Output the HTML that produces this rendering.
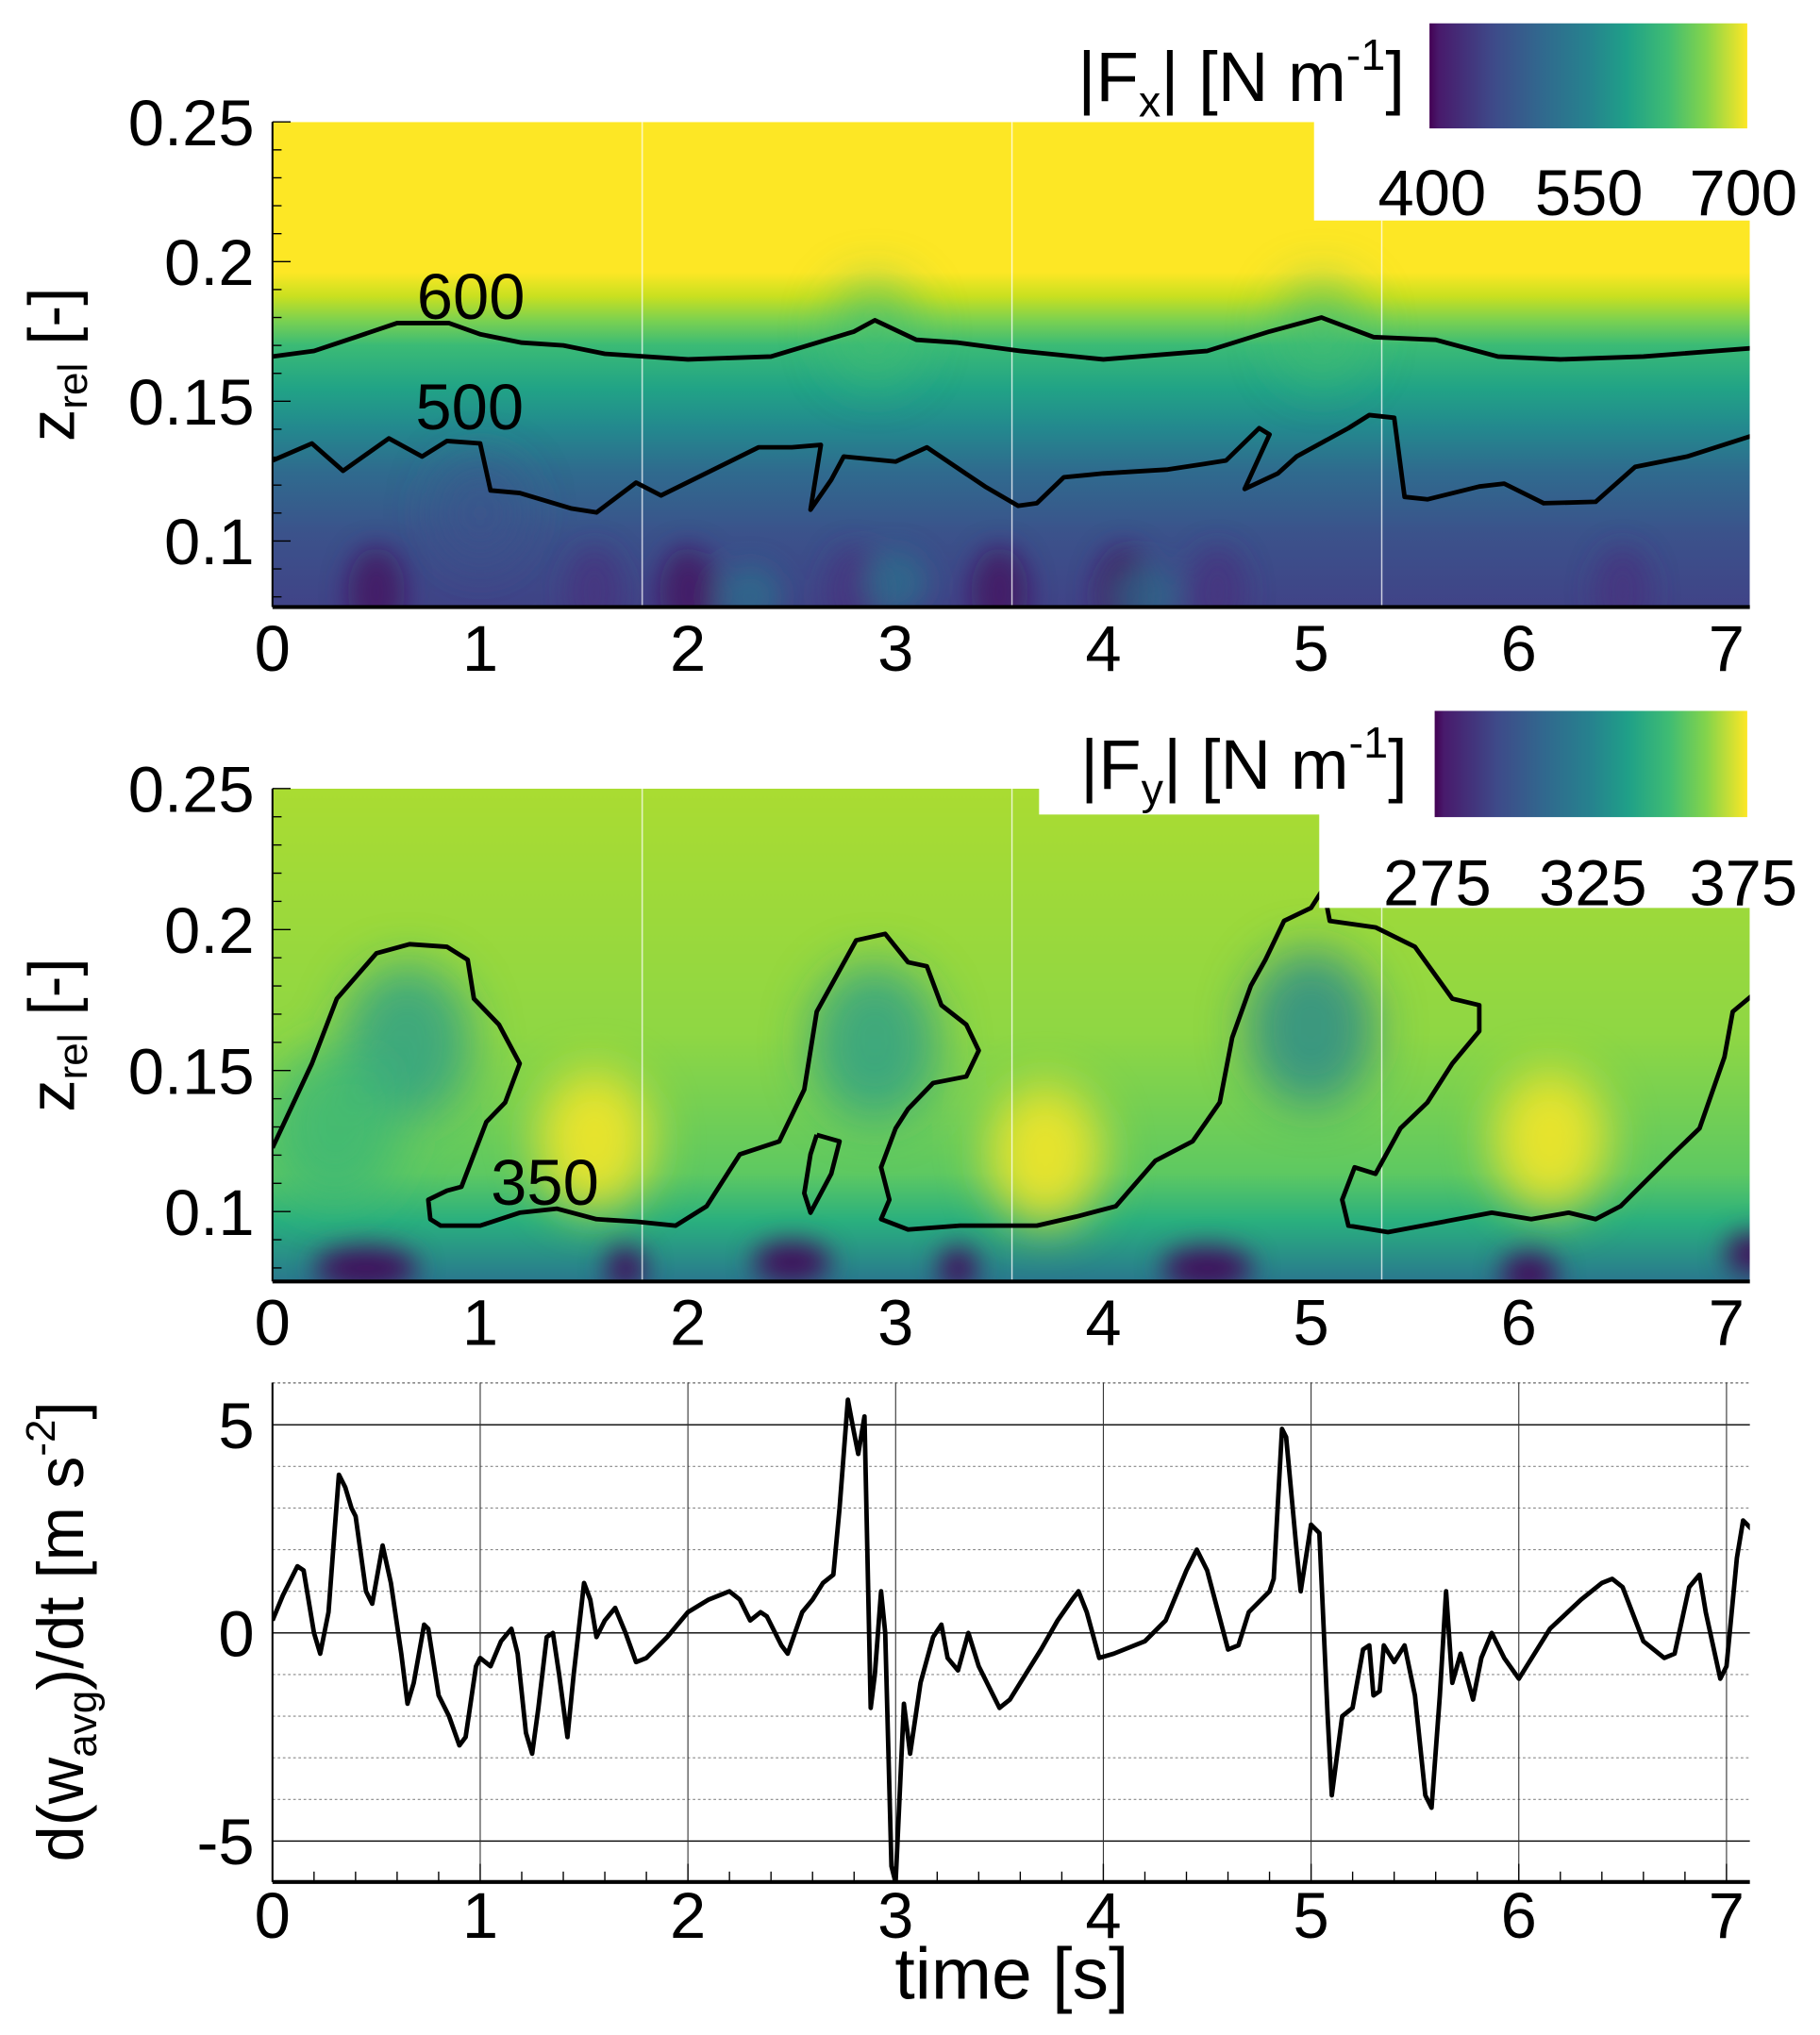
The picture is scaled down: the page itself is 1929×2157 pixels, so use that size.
<!DOCTYPE html>
<html><head><meta charset="utf-8"><style>
html,body{margin:0;padding:0;background:#fff;}
svg{display:block;font-family:"Liberation Sans",Arial,sans-serif;}
</style></head><body>
<svg id="fig" width="1929" height="2157" viewBox="0 0 1403 1569" xmlns="http://www.w3.org/2000/svg">
<defs>
<linearGradient id="viridis" x1="0" x2="1" y1="0" y2="0">
<stop offset="0" stop-color="#440154"/><stop offset="0.03" stop-color="#481a6c"/><stop offset="0.2" stop-color="#3e4a89"/><stop offset="0.35" stop-color="#31688e"/><stop offset="0.5" stop-color="#26828e"/><stop offset="0.62" stop-color="#1fa088"/><stop offset="0.75" stop-color="#3fbc73"/><stop offset="0.87" stop-color="#84d44b"/><stop offset="1" stop-color="#fde725"/>
</linearGradient>
<linearGradient id="fxgrad" x1="0" x2="0" y1="94" y2="468" gradientUnits="userSpaceOnUse">
<stop offset="0" stop-color="#fde725"/><stop offset="0.31" stop-color="#fde725"/><stop offset="0.36" stop-color="#c8e020"/><stop offset="0.41" stop-color="#7ad151"/><stop offset="0.46" stop-color="#3bbb75"/><stop offset="0.55" stop-color="#21a386"/><stop offset="0.63" stop-color="#23898e"/><stop offset="0.72" stop-color="#2f6b8e"/><stop offset="0.85" stop-color="#3b528b"/><stop offset="1" stop-color="#404387"/>
</linearGradient>
<linearGradient id="fygrad" x1="0" x2="0" y1="608" y2="988" gradientUnits="userSpaceOnUse">
<stop offset="0" stop-color="#aadc32"/><stop offset="0.5" stop-color="#8fd744"/><stop offset="0.78" stop-color="#5ec962"/><stop offset="0.88" stop-color="#29af7f"/><stop offset="1" stop-color="#2a788e"/>
</linearGradient>
<filter id="blur1" x="-50%" y="-50%" width="200%" height="200%"><feGaussianBlur stdDeviation="18"/></filter>
<filter id="blur2" x="-50%" y="-50%" width="200%" height="200%"><feGaussianBlur stdDeviation="10"/></filter>
<clipPath id="clipFx"><path d="M210,94 H1013 V170 H1349 V468 H210 Z"/></clipPath>
<clipPath id="clipFy"><path d="M210,608 H801 V628 H1017 V700 H1349 V988 H210 Z"/></clipPath>
<clipPath id="clipTs"><rect x="210" y="1066" width="1139" height="385"/></clipPath>
</defs>
<g id="fxPanel"></g>
<g id="fyPanel"></g>
<g id="tsPanel"></g>
</svg>
<script>
// ---------- data ----------
const xTicks = [0,1,2,3,4,5,6,7];
const zTicks = [0.1,0.15,0.2,0.25];
const zTickLabels = ["0.1","0.15","0.2","0.25"];
const fxCbarLabels = ["400","550","700"];
const fyCbarLabels = ["275","325","375"];
const accTicks = [-5,0,5];
const accTickLabels = ["-5","0","5"];
const accMinor = [-4,-3,-2,-1,1,2,3,4,6];

const fx600T = [0,0.2,0.4,0.6,0.85,1.0,1.2,1.4,1.6,2.0,2.4,2.8,2.9,3.1,3.3,3.6,4.0,4.5,4.8,5.05,5.3,5.6,5.9,6.2,6.6,7.12];
const fx600Z = [0.166,0.168,0.173,0.178,0.178,0.174,0.171,0.170,0.167,0.165,0.166,0.175,0.179,0.172,0.171,0.168,0.165,0.168,0.175,0.180,0.173,0.172,0.166,0.165,0.166,0.169];

const fx500T = [0,0.19,0.34,0.56,0.72,0.84,1.0,1.05,1.19,1.44,1.56,1.75,1.87,2.34,2.50,2.64,2.59,2.69,2.75,3.0,3.15,3.43,3.59,3.68,3.81,4.0,4.31,4.59,4.75,4.80,4.68,4.84,4.93,5.18,5.28,5.40,5.45,5.56,5.81,5.93,6.12,6.37,6.56,6.81,7.12];
const fx500Z = [0.1288,0.1349,0.1251,0.1367,0.1302,0.1358,0.1349,0.1181,0.1172,0.1116,0.1102,0.1209,0.1163,0.1335,0.1335,0.1344,0.1112,0.1219,0.1302,0.1284,0.1335,0.1195,0.1126,0.1135,0.1228,0.1242,0.1256,0.1288,0.1404,0.1381,0.1186,0.1242,0.1302,0.1404,0.1451,0.1441,0.1158,0.1149,0.1195,0.1205,0.1135,0.1140,0.1265,0.1302,0.1376];

const fy350T = [0,0.19,0.31,0.50,0.66,0.84,0.94,0.97,1.09,1.19,1.12,1.03,0.91,0.84,0.75,0.76,0.81,1.0,1.19,1.37,1.56,1.75,1.94,2.09,2.25,2.44,2.56,2.62,2.81,2.95,3.06,3.15,3.22,3.34,3.40,3.34,3.18,3.06,3.0,2.93,2.97,2.93,3.06,3.31,3.68,3.87,4.06,4.25,4.43,4.56,4.62,4.71,4.78,4.87,5.0,5.06,5.09,5.31,5.50,5.68,5.81,5.81,5.68,5.56,5.43,5.31,5.21,5.15,5.18,5.37,5.87,6.06,6.24,6.37,6.49,6.74,6.87,6.99,7.03,7.12];
const fy350Z = [0.1226,0.1525,0.1755,0.1916,0.1948,0.1939,0.1893,0.1755,0.1663,0.1525,0.1387,0.1318,0.1088,0.1074,0.1042,0.0973,0.0950,0.0950,0.0996,0.1010,0.0973,0.0964,0.0950,0.1019,0.1203,0.1249,0.1433,0.1709,0.1962,0.1985,0.1884,0.1870,0.1732,0.1663,0.1571,0.1479,0.1456,0.1364,0.1295,0.1157,0.1042,0.0973,0.0936,0.0950,0.0950,0.0982,0.1019,0.1180,0.1249,0.1387,0.1617,0.1801,0.1893,0.2031,0.2077,0.2146,0.2031,0.2008,0.1939,0.1755,0.1732,0.1640,0.1525,0.1387,0.1295,0.1134,0.1157,0.1042,0.0950,0.0927,0.0996,0.0973,0.0996,0.0973,0.1019,0.1203,0.1295,0.1548,0.1709,0.1764];
const fyLoopT = [2.62,2.73,2.69,2.59,2.56,2.59,2.62];
const fyLoopZ = [0.1272,0.1249,0.1134,0.0996,0.1065,0.1203,0.1272];

const accT = [0,0.05,0.12,0.15,0.2,0.23,0.27,0.3,0.32,0.35,0.38,0.4,0.45,0.48,0.53,0.57,0.62,0.65,0.68,0.73,0.75,0.8,0.85,0.9,0.93,0.98,1.0,1.05,1.1,1.15,1.18,1.22,1.25,1.28,1.32,1.35,1.38,1.42,1.45,1.5,1.53,1.56,1.6,1.65,1.7,1.75,1.8,1.9,2.0,2.1,2.2,2.25,2.3,2.35,2.38,2.45,2.48,2.55,2.6,2.65,2.7,2.73,2.77,2.8,2.82,2.85,2.88,2.9,2.93,2.95,2.98,3.0,3.04,3.07,3.12,3.18,3.22,3.25,3.3,3.35,3.4,3.5,3.55,3.6,3.7,3.78,3.85,3.88,3.92,3.98,4.05,4.2,4.3,4.4,4.45,4.5,4.6,4.65,4.7,4.8,4.82,4.86,4.88,4.93,4.95,5.0,5.04,5.08,5.1,5.15,5.2,5.25,5.28,5.3,5.33,5.35,5.4,5.45,5.5,5.55,5.58,5.62,5.65,5.68,5.72,5.78,5.82,5.87,5.93,6.0,6.05,6.15,6.3,6.4,6.45,6.5,6.6,6.7,6.75,6.82,6.87,6.9,6.97,7.0,7.05,7.08,7.12];
const accV = [0.3,0.9,1.6,1.5,0,-0.5,0.5,2.5,3.8,3.5,3.0,2.8,1.0,0.7,2.1,1.2,-0.5,-1.7,-1.2,0.2,0.1,-1.5,-2.0,-2.7,-2.5,-0.8,-0.6,-0.8,-0.2,0.1,-0.5,-2.4,-2.9,-1.8,-0.1,0,-1,-2.5,-1,1.2,0.8,-0.1,0.3,0.6,0,-0.7,-0.6,-0.1,0.5,0.8,1.0,0.8,0.3,0.5,0.4,-0.3,-0.5,0.5,0.8,1.2,1.4,3.0,5.6,4.8,4.3,5.2,-1.8,-1,1.0,0,-5.6,-6.0,-1.7,-2.9,-1.2,-0.1,0.2,-0.6,-0.9,0,-0.8,-1.8,-1.6,-1.2,-0.4,0.3,0.8,1,0.5,-0.6,-0.5,-0.2,0.3,1.5,2.0,1.5,-0.4,-0.3,0.5,1.0,1.3,4.9,4.7,2.0,1.0,2.6,2.4,-2.0,-3.9,-2.0,-1.8,-0.4,-0.3,-1.5,-1.4,-0.3,-0.7,-0.3,-1.5,-3.9,-4.2,-1.5,1.0,-1.2,-0.5,-1.6,-0.6,0,-0.6,-1.1,-0.7,0.1,0.8,1.2,1.3,1.1,-0.2,-0.6,-0.5,1.1,1.4,0.5,-1.1,-0.8,1.8,2.7,2.5];

// ---------- helpers ----------
const NS = "http://www.w3.org/2000/svg";
function mk(tag, attrs, parent){ const e=document.createElementNS(NS,tag); for(const k in attrs) e.setAttribute(k,attrs[k]); parent.appendChild(e); return e; }
const X0=210, X1=1349, PX=(1331-210)/7;
const xs = t => X0 + t*PX;
const zFx = z => 94 + (0.25-z)/0.05*107.7;
const zFy = z => 608 + (0.25-z)/0.05*108.7;
const yAcc = v => 1259 - v*32.1;
function pathFrom(T,V,sx,sy){ return T.map((t,i)=>(i?"L":"M")+sx(t).toFixed(1)+","+sy(V[i]).toFixed(1)).join(""); }

function txt(parent,x,y,s,size,anchor,name){
  const e=mk("text",{x:x,y:y,"font-size":size,"text-anchor":anchor||"middle",fill:"#000"},parent);
  e.textContent=s;
  
  
  return e;
}

function heatAxes(g, sy, bottom, labelY){
  mk("line",{x1:X0,y1:sy(0.25),x2:X0,y2:bottom,stroke:"#000","stroke-width":1.5},g);
  mk("line",{x1:X0,y1:bottom,x2:X1,y2:bottom,stroke:"#000","stroke-width":3},g);
  for(let k=0;k<=18;k++){
    const z=0.25-k*0.01; const y=sy(z); if(y>bottom) break;
    const major = (k%5===0);
    mk("line",{x1:X0,y1:y,x2:X0+(major?14:7),y2:y,stroke:"#000","stroke-width":1},g);
  }
  zTicks.forEach((z,i)=>{ txt(g,196,sy(z)+18,zTickLabels[i],50,"end","y-tick-label"); });
  xTicks.forEach(t=>{ txt(g,xs(t),labelY,String(t),50,"middle","x-tick-label"); });
}

// ---------- Fx panel ----------
(function(){
  const g=document.getElementById("fxPanel");
  const hm=mk("g",{"clip-path":"url(#clipFx)"},g);
  
  
  mk("rect",{x:X0,y:94,width:X1-X0,height:374,fill:"url(#fxgrad)"},hm);
  const bl=mk("g",{filter:"url(#blur1)"},hm);
  [[2.9,0.175,'#3fbc73'],[5.05,0.175,'#3fbc73'],[1.0,0.11,'#3a548c']].forEach(b=>{
    mk("ellipse",{cx:xs(b[0]),cy:zFx(b[1]),rx:35,ry:40,fill:b[2],opacity:0.6},bl);
  });
  const bl2=mk("g",{filter:"url(#blur2)"},hm);
  [0.5,1.55,2.0,2.8,3.5,4.55,4.1,6.5].forEach((t,i)=>{
    mk("ellipse",{cx:xs(t),cy:zFx(0.082),rx:22,ry:34,fill:i%2? '#46317e':'#440f5e',opacity:0.75},bl2);
  });
  [[3,0.085],[2.3,0.08],[4.2,0.08]].forEach(b=>mk("ellipse",{cx:xs(b[0]),cy:zFx(b[1]),rx:25,ry:25,fill:'#2a788e',opacity:0.6},bl2));
  [1.78,3.56,5.34].forEach(t=>mk("line",{x1:xs(t),y1:94,x2:xs(t),y2:468,stroke:"#fff","stroke-width":1,opacity:0.8},hm));
  const c1=mk("path",{d:pathFrom(fx600T,fx600Z,xs,zFx),fill:"none",stroke:"#000","stroke-width":3.5,"stroke-linejoin":"round"},hm);
  
  
  const c2=mk("path",{d:pathFrom(fx500T,fx500Z,xs,zFx),fill:"none",stroke:"#000","stroke-width":3.5,"stroke-linejoin":"round"},hm);
  
  
  txt(g,363,246,"600",50,"middle","contour-label-600");
  txt(g,362,331,"500",50,"middle","contour-label-500");
  heatAxes(g,zFx,468,517);
  const yl=txt(g,0,0,"",50,"middle","fx-y-axis-title");
  yl.setAttribute("transform","translate(57,281) rotate(-90)");
  yl.innerHTML='z<tspan font-size="32" dy="10">rel</tspan><tspan dy="-10"> [-]</tspan>';
  const cb=mk("rect",{x:1102,y:18,width:245,height:81,fill:"url(#viridis)"},g);
  
  
  const ct=txt(g,1083,78,"",54,"end","fx-colorbar-title");
  ct.innerHTML='|F<tspan font-size="34" dy="12">x</tspan><tspan dy="-12">| [N m</tspan><tspan font-size="34" dy="-24">-1</tspan><tspan dy="24">]</tspan>';
  [1104,1225,1344].forEach((x,i)=>txt(g,x,166,fxCbarLabels[i],50,"middle","fx-colorbar-tick"));
})();

// ---------- Fy panel ----------
(function(){
  const g=document.getElementById("fyPanel");
  const hm=mk("g",{"clip-path":"url(#clipFy)"},g);
  
  
  mk("rect",{x:X0,y:608,width:X1-X0,height:380,fill:"url(#fygrad)"},hm);
  const bl=mk("g",{filter:"url(#blur1)"},hm);
  [[0.65,0.16,'#2a9d8a'],[2.9,0.16,'#2a9d8a'],[5.0,0.165,'#25888d'],[0.3,0.13,'#3cb676']].forEach(b=>{
    mk("ellipse",{cx:xs(b[0]),cy:zFy(b[1]),rx:50,ry:60,fill:b[2],opacity:0.8},bl);
  });
  [[1.55,0.125],[3.72,0.12],[6.15,0.125]].forEach(b=>{
    mk("ellipse",{cx:xs(b[0]),cy:zFy(b[1]),rx:45,ry:55,fill:'#fde725',opacity:0.85},bl);
  });
  const bl2=mk("g",{filter:"url(#blur2)"},hm);
  [[0.45,0.08,40],[2.5,0.082,30],[4.5,0.08,35],[6.05,0.078,22],[7.12,0.085,20],[1.7,0.08,15],[3.3,0.08,15]].forEach(b=>{
    mk("ellipse",{cx:xs(b[0]),cy:zFy(b[1]),rx:b[2],ry:16,fill:'#440154',opacity:0.9},bl2);
  });
  [1.78,3.56,5.34].forEach(t=>mk("line",{x1:xs(t),y1:608,x2:xs(t),y2:988,stroke:"#fff","stroke-width":1,opacity:0.8},hm));
  const c=mk("path",{d:pathFrom(fy350T,fy350Z,xs,zFy),fill:"none",stroke:"#000","stroke-width":3.5,"stroke-linejoin":"round"},hm);
  
  
  const c2=mk("path",{d:pathFrom(fyLoopT,fyLoopZ,xs,zFy),fill:"none",stroke:"#000","stroke-width":3.5,"stroke-linejoin":"round"},hm);
  
  
  txt(g,420,929,"350",50,"middle","contour-label-350");
  heatAxes(g,zFy,988,1037);
  const yl=txt(g,0,0,"",50,"middle","fy-y-axis-title");
  yl.setAttribute("transform","translate(57,798) rotate(-90)");
  yl.innerHTML='z<tspan font-size="32" dy="10">rel</tspan><tspan dy="-10"> [-]</tspan>';
  const cb=mk("rect",{x:1106,y:548,width:241,height:82,fill:"url(#viridis)"},g);
  
  
  const ct=txt(g,1085,608,"",54,"end","fy-colorbar-title");
  ct.innerHTML='|F<tspan font-size="34" dy="12">y</tspan><tspan dy="-12">| [N m</tspan><tspan font-size="34" dy="-24">-1</tspan><tspan dy="24">]</tspan>';
  [1108,1228,1344].forEach((x,i)=>txt(g,x,698,fyCbarLabels[i],50,"middle","fy-colorbar-tick"));
})();

// ---------- time series ----------
(function(){
  const g=document.getElementById("tsPanel");
  accMinor.forEach(v=>{ const y=yAcc(v); if(y<1066) return; mk("line",{x1:X0,y1:y,x2:X1,y2:y,stroke:"#888","stroke-width":0.8,"stroke-dasharray":"2,2"},g); });
  mk("line",{x1:X0,y1:1066,x2:X1,y2:1066,stroke:"#888","stroke-width":0.8,"stroke-dasharray":"2,2"},g);
  accTicks.forEach(v=>mk("line",{x1:X0,y1:yAcc(v),x2:X1,y2:yAcc(v),stroke:"#000","stroke-width":1},g));
  xTicks.forEach(t=>mk("line",{x1:xs(t),y1:1066,x2:xs(t),y2:1451,stroke:"#333","stroke-width":0.8},g));
  for(let k=0;k<=35;k++){ const x=xs(k*0.2); if(x>X1) break; mk("line",{x1:x,y1:1451,x2:x,y2:1451-(k%5===0?14:8),stroke:"#000","stroke-width":1},g); }
  mk("line",{x1:X0,y1:1066,x2:X0,y2:1451,stroke:"#000","stroke-width":1.5},g);
  mk("line",{x1:X0,y1:1451,x2:X1,y2:1451,stroke:"#000","stroke-width":3},g);
  const cl=mk("g",{"clip-path":"url(#clipTs)"},g);
  const p=mk("path",{d:pathFrom(accT,accV,xs,yAcc),fill:"none",stroke:"#000","stroke-width":3.5,"stroke-linejoin":"round"},cl);
  
  
  accTicks.forEach((v,i)=>txt(g,196,yAcc(v)+18,accTickLabels[i],50,"end","y-tick-label"));
  xTicks.forEach(t=>txt(g,xs(t),1494,String(t),50,"middle","x-tick-label"));
  txt(g,780,1541,"time [s]",56,"middle","x-axis-title");
  const yl=txt(g,0,0,"",50,"middle","acc-y-axis-title");
  yl.setAttribute("transform","translate(64,1258) rotate(-90)");
  yl.innerHTML='d(w<tspan font-size="32" dy="10">avg</tspan><tspan dy="-10">)/dt [m s</tspan><tspan font-size="32" dy="-22">-2</tspan><tspan dy="22">]</tspan>';
})();
</script>
</body></html>
